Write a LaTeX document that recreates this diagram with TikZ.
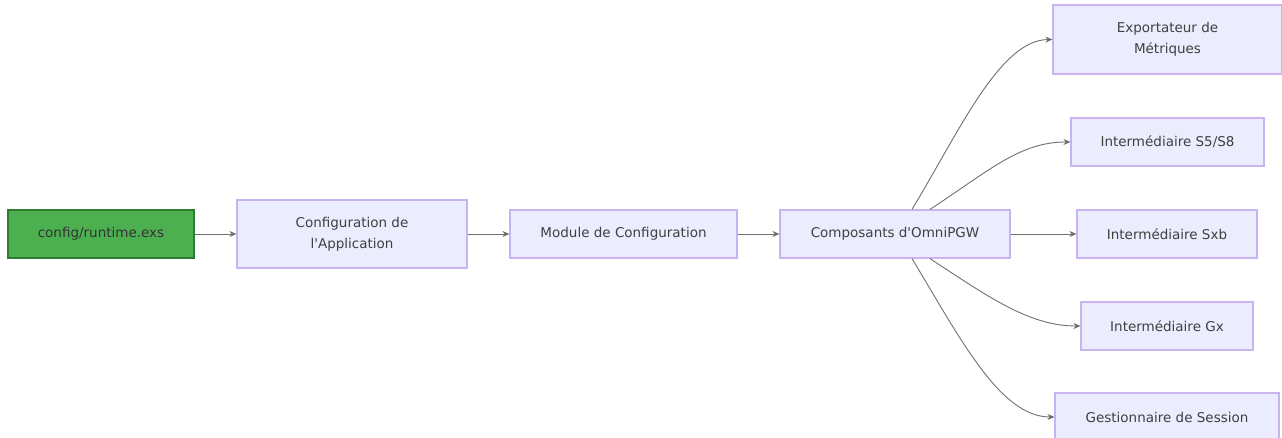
\documentclass[tikz,border=0pt]{standalone}
\usepackage{fontspec}
\setmainfont{DejaVu Sans}
\usetikzlibrary{arrows.meta}

\definecolor{boxfill}{HTML}{ECECFF}
\definecolor{boxline}{HTML}{C9B3F0}
\definecolor{srcfill}{HTML}{4CAF50}
\definecolor{srcline}{HTML}{2E7D32}
\definecolor{linkgray}{HTML}{333333}

\tikzset{
    box/.style={draw=boxline, fill=boxfill, line width=1.2pt, align=center,
        text=black!75, font=\fontsize{13.5}{21}\selectfont, inner sep=0pt},
    source/.style={box, draw=srcline, fill=srcfill, text=black!80},
    link/.style={draw=linkgray!70, line width=0.9pt,
        -{Stealth[length=7pt,width=6pt,fill=linkgray]}},
}

\begin{document}
\begin{tikzpicture}[x=1pt,y=-1pt]
    \useasboundingbox (0,0) rectangle (1282,438);

    \node [source, minimum width=186pt, minimum height=48pt] (runtime) at (101,234) {config/runtime.exs};
    \node [box, minimum width=230pt, minimum height=68pt] (appconf) at (352,234) {Configuration de\\l\textquotesingle Application};
    \node [box, minimum width=227pt, minimum height=48pt] (module) at (623.5,234) {Module de Configuration};
    \node [box, minimum width=230pt, minimum height=48pt] (comp) at (895,234) {Composants d\textquotesingle OmniPGW};

    \node [box, minimum width=229pt, minimum height=69pt] (metrics) at (1167.5,39.5) {Exportateur de\\Métriques};
    \node [box, minimum width=193pt, minimum height=48pt] (s5s8) at (1167.5,142) {Intermédiaire S5/S8};
    \node [box, minimum width=180pt, minimum height=48pt] (sxb) at (1167,234) {Intermédiaire Sxb};
    \node [box, minimum width=172pt, minimum height=48pt] (gx) at (1167,326) {Intermédiaire Gx};
    \node [box, minimum width=224pt, minimum height=48pt] (session) at (1167,417) {Gestionnaire de Session};

    % straight links
    \draw [link] (runtime) -- (appconf);
    \draw [link] (appconf) -- (module);
    \draw [link] (module) -- (comp);
    \draw [link] (comp) -- (sxb);

    % fan out to the right
    \draw [link] ([xshift=17pt]comp.north) .. controls (960,130) and (1000,40) .. (metrics.west);
    \draw [link] ([xshift=35pt]comp.north) .. controls (990,170) and (1020,142) .. (s5s8.west);
    \draw [link] ([xshift=35pt]comp.south) .. controls (990,298) and (1030,326) .. (gx.west);
    \draw [link] ([xshift=17pt]comp.south) .. controls (960,338) and (1000,417) .. (session.west);
\end{tikzpicture}
\end{document}
